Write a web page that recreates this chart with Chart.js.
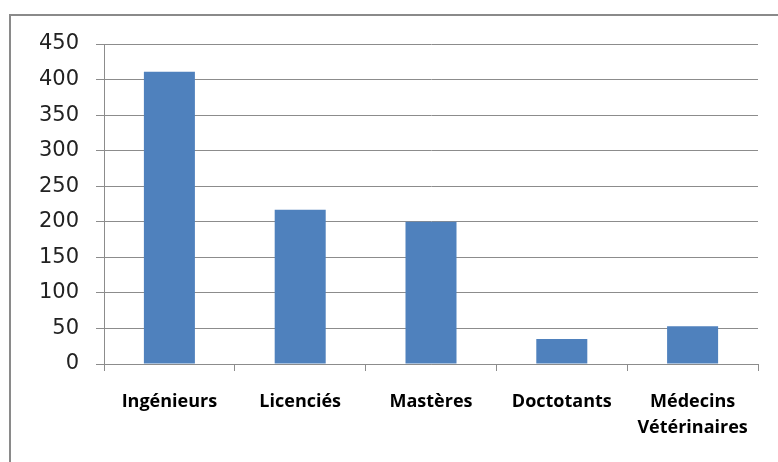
<!DOCTYPE html>
<html lang="fr">
<head>
    <meta charset="UTF-8">
    <title>Effectifs par diplôme</title>
    <script src="https://cdn.jsdelivr.net/npm/chart.js@4.4.1/dist/chart.umd.min.js"></script>
    <style>
        html, body { margin: 0; padding: 0; background: #fff; }
        #wrap { width: 778px; height: 462px; position: relative; }
    </style>
</head>
<body>
    <div id="wrap"><canvas id="barChart"></canvas></div>
    <script>
        // données du graphique
        const categories = ['Ingénieurs', 'Licenciés', 'Mastères', 'Doctotants', ['Médecins', 'Vétérinaires']];
        const effectifs = [411, 217, 200, 35, 53];
        const yTicks = [0, 50, 100, 150, 200, 250, 300, 350, 400, 450];

        const gridColor = '#8c8c8c';

        // cadre gris autour du graphique (coupé à droite et en bas)
        const framePlugin = {
            id: 'frame',
            beforeDraw(chart) {
                const ctx = chart.ctx;
                ctx.save();
                ctx.strokeStyle = '#8a8a8a';
                ctx.lineWidth = 2;
                ctx.beginPath();
                ctx.moveTo(10, 470);
                ctx.lineTo(10, 15);
                ctx.lineTo(790, 15);
                ctx.stroke();
                ctx.restore();
            }
        };

        const ctx = document.getElementById('barChart').getContext('2d');
        new Chart(ctx, {
            type: 'bar',
            data: {
                labels: categories,
                datasets: [{
                    data: effectifs,
                    backgroundColor: '#4f81bd',
                    borderWidth: 0,
                    barPercentage: 0.39,
                    categoryPercentage: 1
                }]
            },
            options: {
                responsive: true,
                maintainAspectRatio: false,
                animation: false,
                layout: { padding: { left: 0, top: 44, right: 20, bottom: 0 } },
                plugins: {
                    legend: { display: false },
                    tooltip: { enabled: false }
                },
                scales: {
                    x: {
                        grid: {
                            offset: true,
                            drawOnChartArea: false,
                            drawTicks: true,
                            tickLength: 7,
                            color: gridColor
                        },
                        border: { display: true, color: gridColor, width: 1 },
                        ticks: {
                            color: '#000',
                            padding: 18,
                            maxRotation: 0,
                            autoSkip: false,
                            font: { family: 'Open Sans', size: 18, weight: 'bold', lineHeight: 1.45 }
                        },
                        afterFit(scale) { scale.height = 98; }
                    },
                    y: {
                        min: 0,
                        max: 450,
                        afterBuildTicks(scale) {
                            scale.ticks = yTicks.map(v => ({ value: v }));
                        },
                        grid: {
                            color: gridColor,
                            tickLength: 8,
                            drawTicks: true
                        },
                        border: { display: true, color: gridColor, width: 1 },
                        ticks: {
                            color: '#222',
                            padding: 17,
                            font: { family: 'DejaVu Sans', size: 21 }
                        },
                        afterFit(scale) { scale.width = 104; }
                    }
                }
            },
            plugins: [framePlugin]
        });
    </script>
</body>
</html>
